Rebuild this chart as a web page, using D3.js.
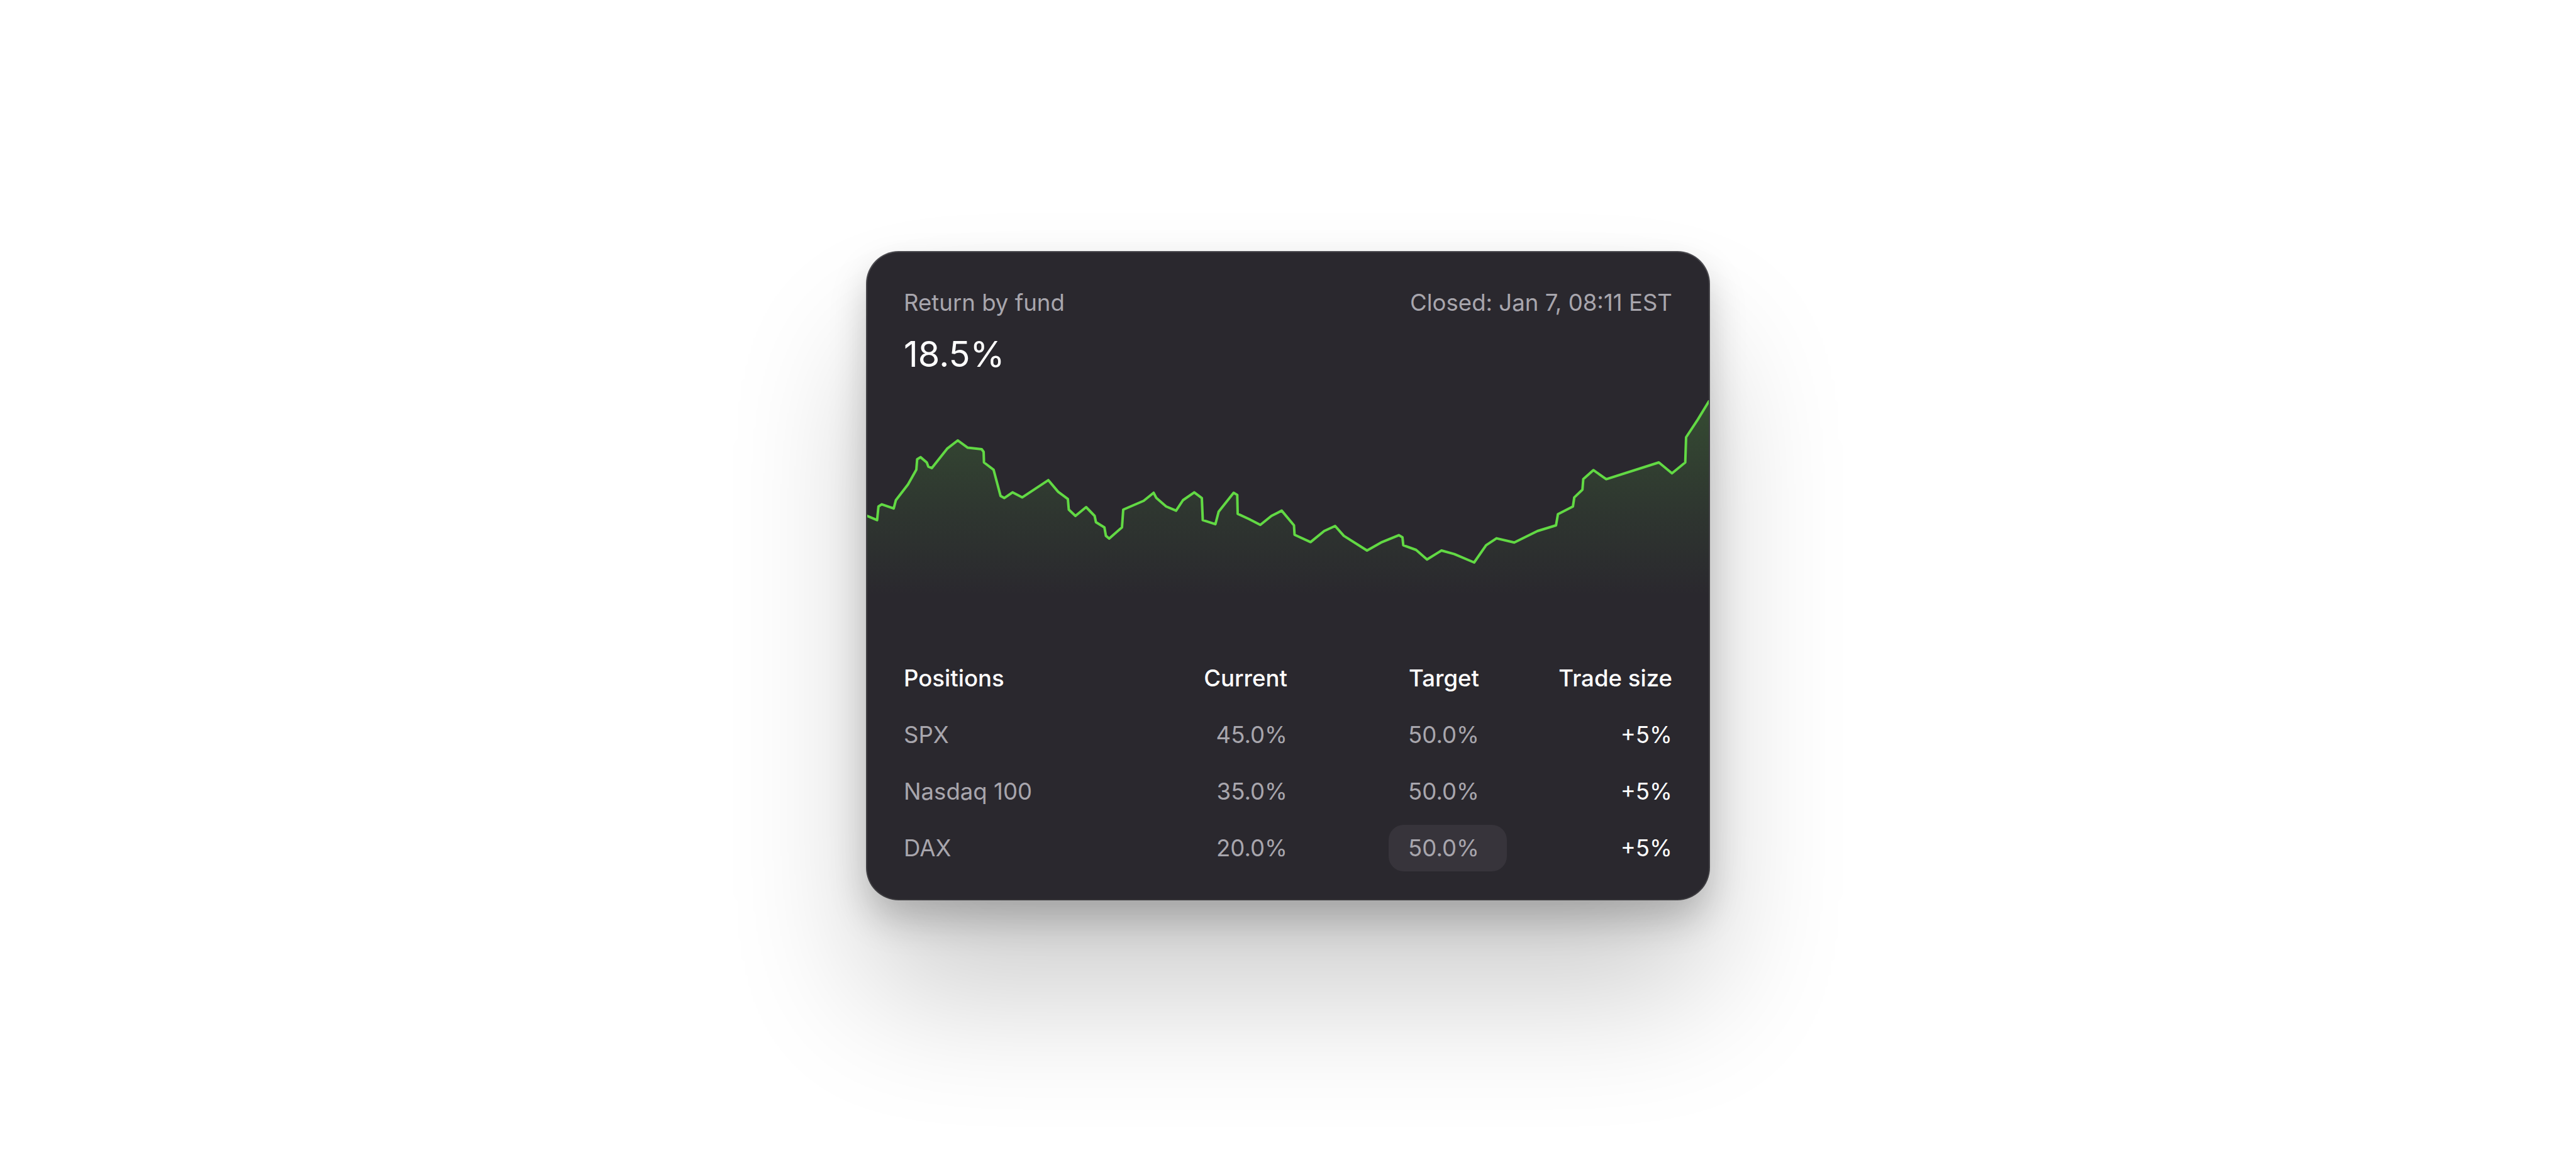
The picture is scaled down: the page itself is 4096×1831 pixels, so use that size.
<!DOCTYPE html>
<html lang="en">
<head>
<meta charset="UTF-8">
<title>Return by fund</title>
<script src="https://d3js.org/d3.v7.min.js"></script>
<style>
  html, body { margin: 0; padding: 0; background: #fff; }
  body { width: 4096px; height: 1831px; position: relative; overflow: hidden; }
  #card {
    position: absolute;
    left: 1379px; top: 401px;
    width: 1338px; height: 1028px;
    border-radius: 50px;
    background: #2a282e;
    box-shadow: 0 150px 220px rgba(0,0,0,0.20), 0 30px 60px rgba(0,0,0,0.22), 0 0 0 2px rgba(60,59,64,0.9);
    overflow: hidden;
  }
  svg text { font-family: Inter, "Noto Sans", sans-serif; }
</style>
</head>
<body>
<div id="card"></div>
<script>
// header texts
const title = "Return by fund";
const closedLabel = "Closed: Jan 7, 08:11 EST";
const totalReturn = "18.5%";

// return series (time as % of period, return in %)
const times = [0, 1.17, 1.33, 1.72, 3.14, 3.40, 4.84, 5.83, 5.93, 6.33, 7.07, 7.26, 7.67, 9.49, 10.76,
  11.94, 13.60, 13.83, 13.87, 15.01, 15.84, 16.28, 17.26, 18.41, 21.52, 22.68, 23.84, 23.95, 24.74,
  26.01, 27.02, 27.18, 28.18, 28.36, 28.75, 30.27, 30.42, 32.85, 34.03, 34.36, 35.52, 36.70, 37.52,
  38.86, 39.76, 39.87, 41.37, 41.76, 43.54, 43.97, 44.02, 45.37, 46.71, 48.03, 49.25, 50.71, 50.78,
  52.68, 54.30, 55.60, 56.63, 59.39, 61.17, 63.18, 63.60, 63.70, 65.22, 66.52, 68.24, 69.76, 72.12,
  73.54, 74.78, 76.89, 79.65, 81.85, 82.08, 83.86, 84.02, 84.99, 85.09, 86.29, 87.82, 94.07, 95.63,
  97.21, 97.31, 98.71, 100];
const returns = [9.40, 9.07, 10.15, 10.32, 9.99, 10.65, 11.90, 13.07, 13.90, 14.07, 13.65, 13.32, 13.20, 14.74, 15.40,
  14.82, 14.70, 14.49, 13.65, 13.07, 10.99, 10.82, 11.27, 10.87, 12.24, 11.32, 10.74, 9.90, 9.40,
  10.10, 9.40, 8.90, 8.49, 7.82, 7.60, 8.49, 9.90, 10.60, 11.24, 10.82, 10.15, 9.82, 10.65,
  11.27, 10.82, 9.07, 8.74, 9.74, 11.24, 11.07, 9.57, 9.15, 8.69, 9.40, 9.82, 8.65, 7.90,
  7.32, 8.20, 8.60, 7.82, 6.65, 7.32, 7.87, 7.70, 7.07, 6.70, 5.94, 6.65, 6.37, 5.70,
  7.07, 7.62, 7.29, 8.20, 8.65, 9.54, 10.15, 10.87, 11.49, 12.32, 13.04, 12.32, 13.65, 12.79,
  13.65, 15.65, 17.07, 18.49];

// positions table
const columns = ["Positions", "Current", "Target", "Trade size"];
const positions = ["SPX", "Nasdaq 100", "DAX"];
const current = [45.0, 35.0, 20.0];
const target = [50.0, 50.0, 50.0];
const tradeSize = [5, 5, 5];
const highlighted = 2; // row whose target is being edited

const W = 1338, H = 1028;
const padX = 58;
const gray = "#a8a6ad";
const fs = 36.6;

const svg = d3.select("#card").append("svg")
  .attr("width", W)
  .attr("height", H);

// ---- header
svg.append("text")
  .attr("x", padX).attr("y", 93)
  .attr("font-size", fs).attr("fill", gray)
  .text(title);

svg.append("text")
  .attr("x", W - padX).attr("y", 93)
  .attr("text-anchor", "end")
  .attr("font-size", fs).attr("fill", gray)
  .text(closedLabel);

svg.append("text")
  .attr("x", padX).attr("y", 182)
  .attr("font-size", 56).attr("fill", "#ffffff")
  .text(totalReturn);

// ---- chart
const series = times.map((t, i) => ({ t: t, v: returns[i] }));

const x = d3.scaleLinear().domain([0, 100]).range([0, W]);
const y = d3.scaleLinear().domain([0, 20]).range([607, 207]);

const defs = svg.append("defs");
const grad = defs.append("linearGradient")
  .attr("id", "areaFill")
  .attr("gradientUnits", "userSpaceOnUse")
  .attr("x1", 0).attr("x2", 0)
  .attr("y1", y(18.5)).attr("y2", y(3));
grad.append("stop").attr("offset", 0).attr("stop-color", "#62d944").attr("stop-opacity", 0.2);
grad.append("stop").attr("offset", 0.55).attr("stop-color", "#62d944").attr("stop-opacity", 0.08);
grad.append("stop").attr("offset", 1).attr("stop-color", "#62d944").attr("stop-opacity", 0);

const area = d3.area()
  .x(d => x(d.t))
  .y0(y(0))
  .y1(d => y(d.v));

const line = d3.line()
  .x(d => x(d.t))
  .y(d => y(d.v));

svg.append("path")
  .datum(series)
  .attr("d", area)
  .attr("fill", "url(#areaFill)");

svg.append("path")
  .datum(series)
  .attr("d", line)
  .attr("fill", "none")
  .attr("stroke", "#62d944")
  .attr("stroke-width", 4)
  .attr("stroke-linejoin", "round")
  .attr("stroke-linecap", "round");

// ---- table
const colRight = [null, 668, 973, W - padX];
const headY = 690;
const rowY = d3.scalePoint().domain(positions).range([780, 960]);

const fmtPct = d3.format(".1f");

// highlight pill behind the edited target value
svg.append("rect")
  .attr("x", 829).attr("y", rowY(positions[highlighted]) - 50)
  .attr("width", 188).attr("height", 74)
  .attr("rx", 24)
  .attr("fill", "#37343b");

svg.selectAll("text.head")
  .data(columns)
  .join("text")
  .attr("class", "head")
  .attr("x", (d, i) => i === 0 ? padX : colRight[i])
  .attr("y", headY)
  .attr("text-anchor", (d, i) => i === 0 ? "start" : "end")
  .attr("font-size", fs)
  .attr("font-weight", 500)
  .attr("fill", "#ffffff")
  .text(d => d);

const rows = svg.selectAll("g.row")
  .data(positions)
  .join("g")
  .attr("class", "row")
  .attr("transform", d => `translate(0,${rowY(d)})`);

rows.append("text")
  .attr("x", padX)
  .attr("font-size", fs).attr("fill", gray)
  .text(d => d);

rows.append("text")
  .attr("x", colRight[1]).attr("text-anchor", "end")
  .attr("font-size", fs).attr("fill", gray)
  .text((d, i) => fmtPct(current[i]) + "%");

rows.append("text")
  .attr("x", colRight[2]).attr("text-anchor", "end")
  .attr("font-size", fs).attr("fill", gray)
  .text((d, i) => fmtPct(target[i]) + "%");

rows.append("text")
  .attr("x", colRight[3]).attr("text-anchor", "end")
  .attr("font-size", fs).attr("fill", "#ffffff")
  .text((d, i) => "+" + tradeSize[i] + "%");
</script>
</body>
</html>
